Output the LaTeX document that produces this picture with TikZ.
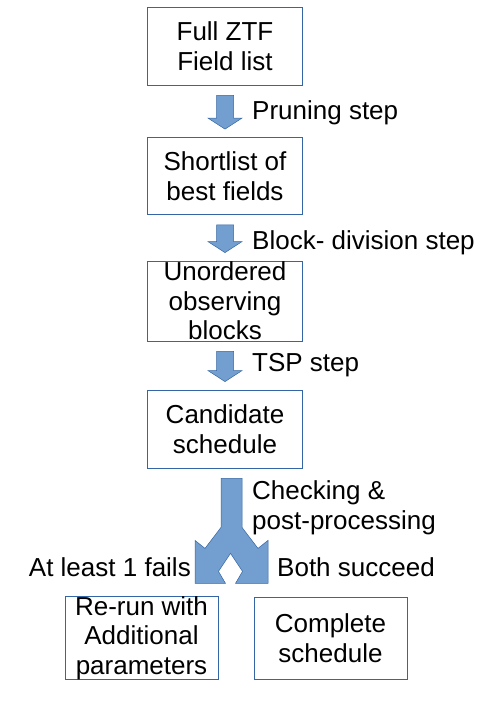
\documentclass[tikz,border=0pt]{standalone}
\usepackage{fontspec}
\setmainfont{Liberation Sans}
\usetikzlibrary{positioning,calc,arrows.meta}
\definecolor{boxline}{HTML}{3465A4}
\definecolor{arrfill}{HTML}{729FCF}
\definecolor{arredge}{HTML}{3465A4}

\begin{document}
\begin{tikzpicture}[x=1pt, y=-1pt,
    font=\fontsize{26}{29.5}\selectfont,
    stage/.style={draw=boxline, line width=0.8pt, align=center, inner sep=0pt,
        minimum width=155pt, minimum height=78pt},
    endbox/.style={stage, minimum width=153pt, minimum height=82pt},
    lbl/.style={inner sep=0pt, align=left},
    blk/.style={fill=arrfill, draw=arredge, line width=0.5pt}]
\useasboundingbox (0,0) rectangle (492,710);

\node[stage] (full) at (225,46) {Full ZTF\\Field list};
\node[stage, minimum height=77pt] (short) at (225,176) {Shortlist of\\best fields};
\node[stage, minimum height=80pt] (unord) at (225,301) {Unordered\\observing\\blocks};
\node[stage] (cand) at (225,429) {Candidate\\schedule};
\node[endbox] (rerun) at (141.5,638) {Re-run with\\Additional\\parameters};
\node[endbox] (done) at (330.5,638) {Complete\\schedule};

% step labels
\node[lbl, anchor=west] (prune) at (252,113) {Pruning step};
\node[lbl, anchor=west] (blockdiv) at (252,243) {Block- division step};
\node[lbl, anchor=west] (tsp) at (252,365) {TSP step};
\node[lbl, anchor=west] (check) at (252,508) {Checking \&\\post-processing};
\node[lbl, anchor=base east] (fails) at (191,576) {At least 1 fails};
\node[lbl, anchor=base west] (both) at (277,576) {Both succeed};

% block arrows between the stages
\foreach \a/\b in {full/short, short/unord, unord/cand}
    \draw[blk] let \p1=($(\a.south)+(0,10)$), \p2=($(\b.north)+(0,-8)$) in
        (\x1-8.5pt,\y1) -- (\x1+8.5pt,\y1) -- (\x1+8.5pt,\y2+11pt) -- (\x1+17pt,\y2+11pt)
        -- (\x1,\y2) -- (\x1-17pt,\y2+11pt) -- (\x1-8.5pt,\y2+11pt) -- cycle;

% split arrow
\coordinate (fork) at ($(cand.south)+(6.5,10)$);
\draw[blk] (fork) ++(-10.5,0) -- ++(21,0) -- ++(0,49) -- ++(16,21) -- ++(10,-8)
    -- ++(0,43) -- ++(-32.5,0) -- ++(7,-12) -- ++(-12,-18) -- ++(-12,18)
    -- ++(7,12) -- ++(-30.5,0) -- ++(0,-43) -- ++(10,8) -- ++(16,-21) -- cycle;

\end{tikzpicture}
\end{document}
